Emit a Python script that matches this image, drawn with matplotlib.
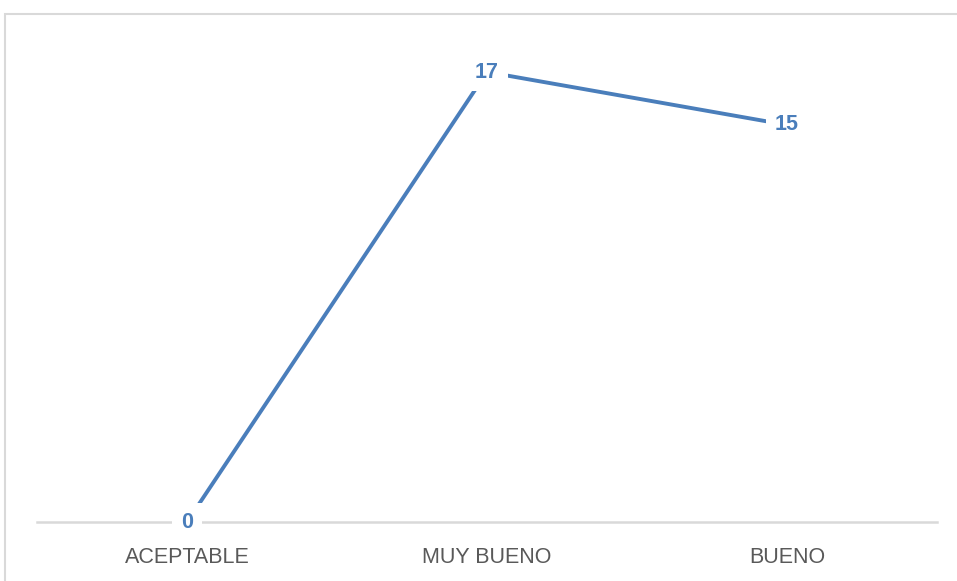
import matplotlib.pyplot as plt
from matplotlib.patches import Rectangle

categorias = ["ACEPTABLE", "MUY BUENO", "BUENO"]
valores = [0, 17, 15]

W, H = 957, 581
fig = plt.figure(figsize=(W / 100, H / 100), dpi=100)
plt.rcParams['font.family'] = ['Liberation Sans', 'DejaVu Sans']

# chart border (light gray, runs off the right/bottom edges)
fig.patches.append(Rectangle((4.5 / W, -0.1), 1.2, 1 - 13.5 / H + 0.1,
                             transform=fig.transFigure, fill=False,
                             edgecolor='#D9D9D9', linewidth=1.5))

ax = fig.add_axes([37 / W, (H - 522) / H, 900 / W, (522 - 30) / H])
x = range(len(categorias))
ax.plot(x, valores, color='#4A7EBB', linewidth=2.8, solid_capstyle='butt', zorder=2)
for xi, v in zip(x, valores):
    ax.text(xi, v, str(v), ha='center', va='center', fontsize=15.5,
            fontweight='bold', color='#4A7EBB', zorder=4,
            bbox=dict(boxstyle='square,pad=0.4', facecolor='white', edgecolor='none'))

ax.set_xlim(-0.5, 2.5)
ax.set_ylim(0, (522 - 30) / ((522 - 72) / 17))
ax.set_xticks(list(x))
ax.set_xticklabels(categorias, fontsize=15.5, color='#595959')
ax.tick_params(axis='x', length=0, pad=18)
ax.set_yticks([])
for s in ['top', 'left', 'right']:
    ax.spines[s].set_visible(False)
ax.spines['bottom'].set_color('#D9D9D9')
ax.spines['bottom'].set_linewidth(1.8)
ax.spines['bottom'].set_zorder(1)

plt.savefig('out.png', dpi=100)
